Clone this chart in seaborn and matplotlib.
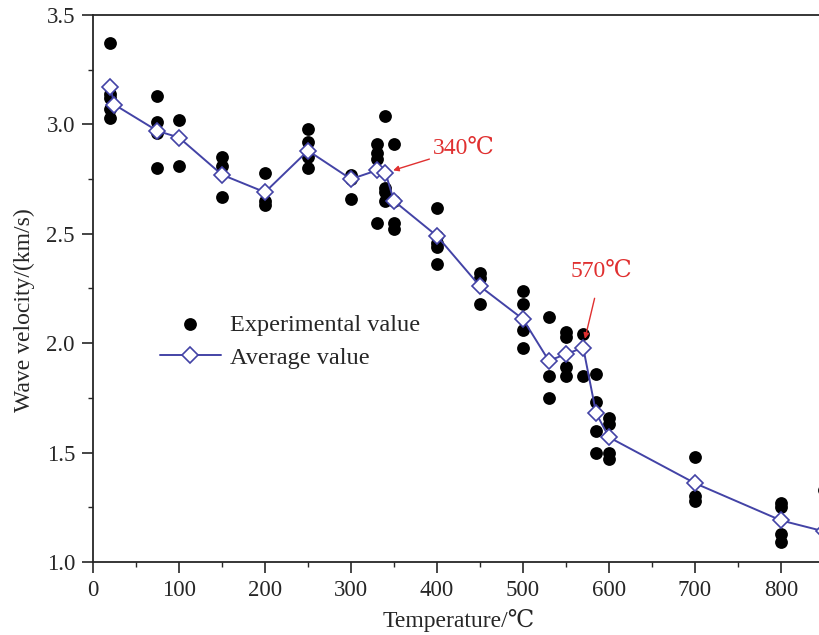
import pandas as pd
import matplotlib.pyplot as plt
import seaborn as sns

# Experimental measurements (temperature in C, wave velocity in km/s)
exp_temp = [20, 20, 20, 20, 20,
            75, 75, 75, 75,
            100, 100,
            150, 150, 150,
            200, 200, 200,
            250, 250, 250, 250,
            300, 300, 300,
            330, 330, 330, 330,
            340, 340, 340, 340,
            350, 350, 350, 350,
            400, 400, 400, 400, 400,
            450, 450, 450,
            500, 500, 500, 500,
            530, 530, 530,
            550, 550, 550, 550,
            570, 570,
            585, 585, 585, 585,
            600, 600, 600, 600,
            700, 700, 700,
            800, 800, 800, 800,
            850]
exp_vel = [3.37, 3.14, 3.12, 3.07, 3.03,
           3.13, 3.01, 2.96, 2.80,
           3.02, 2.81,
           2.85, 2.81, 2.67,
           2.78, 2.65, 2.63,
           2.98, 2.92, 2.85, 2.80,
           2.77, 2.75, 2.66,
           2.91, 2.87, 2.84, 2.55,
           3.04, 2.71, 2.69, 2.65,
           2.91, 2.65, 2.55, 2.52,
           2.62, 2.49, 2.46, 2.44, 2.36,
           2.32, 2.30, 2.18,
           2.24, 2.18, 2.06, 1.98,
           2.12, 1.85, 1.75,
           2.05, 2.03, 1.89, 1.85,
           2.04, 1.85,
           1.86, 1.73, 1.60, 1.50,
           1.66, 1.63, 1.50, 1.47,
           1.48, 1.30, 1.28,
           1.27, 1.25, 1.13, 1.09,
           1.33]

# Average values
avg_temp = [20, 25, 75, 100, 150, 200, 250, 300, 330, 340, 350, 400, 450,
            500, 530, 550, 570, 585, 600, 700, 800, 850]
avg_vel = [3.17, 3.09, 2.97, 2.94, 2.77, 2.69, 2.88, 2.75, 2.79, 2.78, 2.65,
           2.49, 2.26, 2.11, 1.92, 1.95, 1.98, 1.68, 1.57, 1.36, 1.19, 1.14]

exp_df = pd.DataFrame({'T': exp_temp, 'V': exp_vel})
avg_df = pd.DataFrame({'T': avg_temp, 'V': avg_vel})

sns.set_style('ticks')
plt.rcParams['font.family'] = ['Liberation Serif', 'DejaVu Serif']

fig = plt.figure(figsize=(8.2, 6.35), dpi=100)
ax = fig.add_axes([93 / 820, 73 / 635, 731 / 820, 547 / 635])

line_color = '#4343a6'
red = '#e03030'
sns.scatterplot(data=exp_df, x='T', y='V', ax=ax, color='black', s=85,
                edgecolor='black', linewidth=0, label='Experimental value', zorder=2)
sns.lineplot(data=avg_df, x='T', y='V', ax=ax, color=line_color, linewidth=1.4,
             marker='D', markersize=8.5, markerfacecolor='white',
             markeredgecolor=line_color, markeredgewidth=1.2,
             label='Average value', zorder=3, sort=False, estimator=None)

ax.set_xlim(0, 850)
ax.set_ylim(1.0, 3.5)
ax.set_xticks(range(0, 801, 100))
ax.set_xticks(range(50, 851, 100), minor=True)
ax.set_yticks([1.0, 1.5, 2.0, 2.5, 3.0, 3.5])
ax.set_yticks([1.25, 1.75, 2.25, 2.75, 3.25], minor=True)
ax.set_yticklabels(['1.0', '1.5', '2.0', '2.5', '3.0', '3.5'])
ax.tick_params(which='major', direction='out', length=8, width=1.2,
               labelsize=16.5, pad=5)
ax.tick_params(which='minor', direction='out', length=3.5, width=1.0)
for sp in ax.spines.values():
    sp.set_linewidth(1.3)

ax.set_xlabel('Temperature/℃', fontsize=17, labelpad=6)
ax.set_ylabel('Wave velocity/(km/s)', fontsize=17)
ax.yaxis.set_label_coords(-0.08, 0.46)

# Annotations for key temperatures
ax.annotate('340℃', xy=(349, 2.79), xytext=(395, 2.89), color=red,
            fontsize=17, va='center',
            arrowprops=dict(arrowstyle='-|>', color=red, lw=1.0,
                            shrinkA=0, shrinkB=0, mutation_scale=8))
ax.annotate('570℃', xy=(572, 2.02), xytext=(555, 2.33), color=red,
            fontsize=17, va='center',
            arrowprops=dict(arrowstyle='-|>', color=red, lw=1.0,
                            shrinkA=10, shrinkB=0, mutation_scale=8))

leg = ax.legend(loc='upper left', bbox_to_anchor=(0.078, 0.472), frameon=False,
                fontsize=17.5, handlelength=2.5, handletextpad=0.4,
                borderaxespad=0, labelspacing=0.45)

plt.savefig('out.png', dpi=100)
